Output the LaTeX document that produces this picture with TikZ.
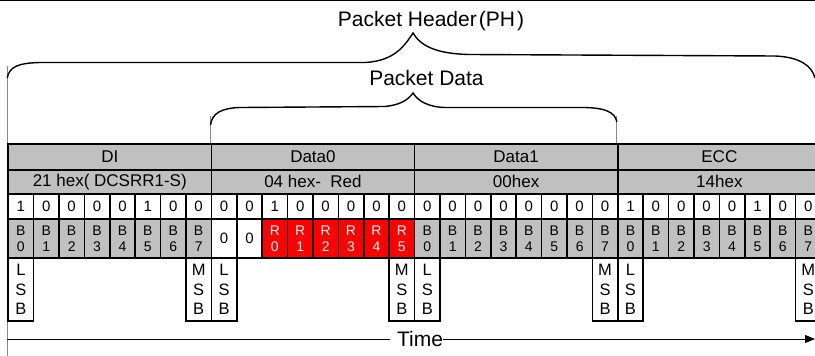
\documentclass[tikz,border=0pt]{standalone}
\usepackage{fontspec}
\setmainfont{Liberation Sans}
\usetikzlibrary{arrows.meta}
\definecolor{cellgray}{RGB}{192,192,192}
\definecolor{cellred}{RGB}{255,0,0}
\definecolor{guidegray}{RGB}{136,136,136}
\begin{document}
\begin{tikzpicture}[x=1pt,y=-1pt,
  box/.style={draw=black, line width=1.7pt, inner sep=0pt, anchor=north west, align=center},
  hdr/.style={box, fill=cellgray, minimum width=203.2pt, font=\fontsize{17}{20}\selectfont},
  bitcell/.style={box, fill=white, minimum width=25.4pt, minimum height=25pt, font=\fontsize{15}{17}\selectfont},
  bcell/.style={box, fill=cellgray, minimum width=25.4pt, minimum height=39pt, font=\fontsize{14}{16}\selectfont},
  rcell/.style={bcell, fill=cellred, text=white},
  zcell/.style={bcell, fill=white},
  sbbox/.style={box, fill=white, minimum width=25.4pt, minimum height=63pt, font=\fontsize{16.5}{19.5}\selectfont},
  brace/.style={draw=black, line width=1.4pt},
  guide/.style={draw=guidegray, line width=1pt},
  lbl/.style={font=\fontsize{21}{25}\selectfont, inner sep=0pt, anchor=base}
]
\useasboundingbox (0,0) rectangle (815,356);
% top rule
\draw[line width=1pt] (0,0.5) -- (815,0.5);
% guide lines
\coordinate (g0a) at (7.3,66); \coordinate (g0b) at (7.3,356);
\coordinate (g1a) at (210.5,116); \coordinate (g1b) at (210.5,143);
\coordinate (g2a) at (616.9,116); \coordinate (g2b) at (616.9,143);
\draw[guide] (g0a) -- (g0b);
\draw[guide] (g1a) -- (g1b);
\draw[guide] (g2a) -- (g2b);
% braces
\draw[brace] (7.3,78) .. controls (9,67) and (18,63) .. (40,62.5) -- (365,62.5)
  .. controls (395,61) and (405,45) .. (413,33)
  .. controls (420,45) and (435,54) .. (470,54.5) -- (775,56)
  .. controls (800,57) and (812,66) .. (815,78);
\draw[brace] (210.5,125) .. controls (212,113) and (222,108) .. (240,107.5) -- (385,106.5)
  .. controls (400,105) and (408,100) .. (413,93)
  .. controls (418,101) and (428,107) .. (445,107.5) -- (585,107.5)
  .. controls (605,108) and (615,112) .. (616.9,122);
\node[lbl] (ph) at (431,27) {Packet Header\kern2pt(PH\kern2pt)};
\node[lbl] (pd) at (426.5,85) {Packet Data};
% row 1
\foreach \k/\t in {0/DI,1/Data0,2/Data1,3/ECC}
  \node[hdr, minimum height=26pt] (f\k) at (7.3+203.2*\k,143) {\t};
% row 2
\foreach \k/\t in {0/{21 hex( DCSRR1-S)},1/{04 hex-\ \ Red},2/{00hex},3/{14hex}}
  \node[hdr, minimum height=24pt] (h\k) at (7.3+203.2*\k,169) {\t};
% row 3 bits
\foreach \b [count=\i from 0] in {1,0,0,0,0,1,0,0, 0,0,1,0,0,0,0,0, 0,0,0,0,0,0,0,0, 1,0,0,0,0,1,0,0}
  \node[bitcell] (v\i) at (7.3+25.4*\i,193) {\b};
% row 4
\foreach \j in {0,...,7} {
  \node[bcell] (pa\j) at (7.3+25.4*\j,218) {B\\\j};
  \node[bcell] (pc\j) at (7.3+25.4*\j+406.4,218) {B\\\j};
  \node[bcell] (pd\j) at (7.3+25.4*\j+609.6,218) {B\\\j};
}
\node[zcell, font=\fontsize{15}{17}\selectfont] (pb0) at (7.3+25.4*8,218) {0};
\node[zcell, font=\fontsize{15}{17}\selectfont] (pb1) at (7.3+25.4*9,218) {0};
\foreach \j in {0,...,5}
  \node[rcell] (pr\j) at (7.3+25.4*\j+254,218) {R\\\j};
% row 5 LSB / MSB
\foreach \k in {0,1,2,3} {
  \node[sbbox] (lsb\k) at (7.3+203.2*\k,257) {L\\S\\B};
  \node[sbbox] (msb\k) at (7.3+203.2*\k+177.8,257) {M\\S\\B};
}
% time arrow
\coordinate (t0) at (7.3,339);
\coordinate (t1) at (815,339);
\node[font=\fontsize{21}{25}\selectfont, inner sep=0pt] (time) at (420,339) {Time};
\draw[line width=1pt] (t0) -- ([xshift=-7pt]time.west);
\draw[line width=1pt, -{Triangle[length=10pt,width=8pt]}] (time.east) -- (t1);
\end{tikzpicture}
\end{document}
